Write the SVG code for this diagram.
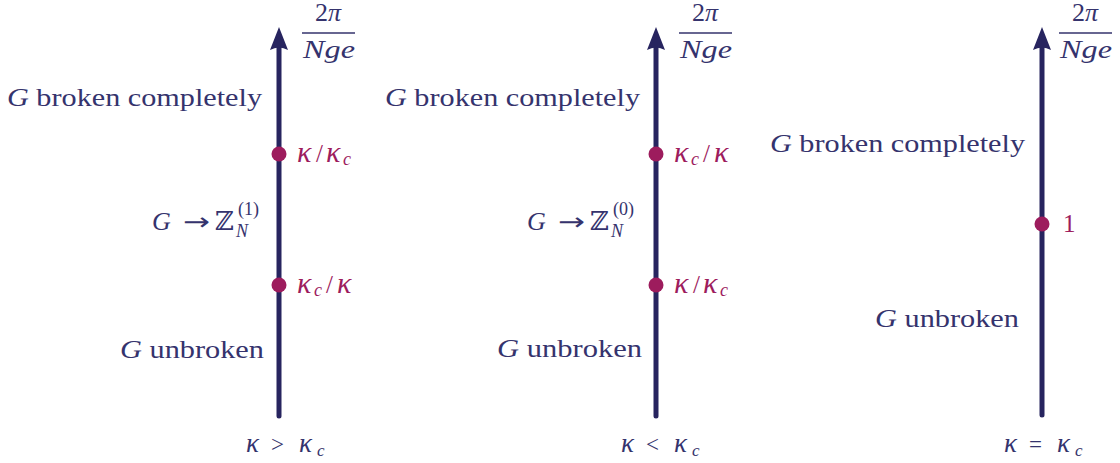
<svg xmlns="http://www.w3.org/2000/svg" width="1120" height="463" viewBox="0 0 1120 463">
<style>
.ax{stroke:#27245f;stroke-width:5;stroke-linecap:round;fill:none}
.hd{fill:#27245f}
.dot{fill:#9d1c5d}
.t{font-family:"Liberation Serif","DejaVu Serif",serif;fill:#35336d;font-size:26px}
.m{font-family:"Liberation Serif","DejaVu Serif",serif;font-style:italic}
.r{font-style:normal}
.p{font-family:"Liberation Serif","DejaVu Serif",serif;fill:#9d1c5d;font-size:25px}
.b{font-family:"Liberation Serif","DejaVu Serif",serif;fill:#35336d;font-size:23px}
.z{font-family:"DejaVu Serif",serif;font-style:normal}
.ar{font-family:"DejaVu Sans",sans-serif;fill:#35336d;font-size:24px}
.k{font-size:30px}
.kb{font-size:27px}
.bar{stroke:#35336d;stroke-width:1.3}
</style>
<rect width="1120" height="463" fill="#fff"/>
<g id="connectors">
<line class="ax" x1="279" y1="416" x2="279" y2="44"/>
<path class="hd" d="M279,27 L288,50 Q279,45 270,50 Z"/>
<line class="ax" x1="656" y1="416" x2="656" y2="44"/>
<path class="hd" d="M656,27 L665,50 Q656,45 647,50 Z"/>
<line class="ax" x1="1042" y1="415" x2="1042" y2="44"/>
<path class="hd" d="M1042,27 L1051,50 Q1042,45 1033,50 Z"/>
</g>
<g id="axis1">
<text class="t m" x="328" y="21" text-anchor="middle" font-size="23"><tspan class="r">2</tspan>π</text>
<line class="bar" x1="302" y1="33" x2="355" y2="33"/>
<text class="t m" x="303" y="58" font-size="25" textLength="52" lengthAdjust="spacingAndGlyphs">Nge</text>
<text class="t" x="7" y="106" textLength="255" lengthAdjust="spacingAndGlyphs"><tspan class="m">G</tspan> broken completely</text>
<circle class="dot" cx="279" cy="154" r="7.5"/>
<text class="p m" y="162"><tspan class="k" x="297">κ</tspan><tspan x="316" class="r">/</tspan><tspan class="k" x="326">κ</tspan><tspan x="343" dy="3" font-size="18">c</tspan></text>
<text class="t m" x="152" y="230">G</text>
<text class="ar" x="183" y="230" textLength="27" lengthAdjust="spacingAndGlyphs">→</text>
<text class="t" y="230"><tspan class="z" x="215">ℤ</tspan><tspan font-size="18" x="238" dy="-15">(1)</tspan><tspan class="m" font-size="18" x="236" dy="22">N</tspan></text>
<circle class="dot" cx="279" cy="285" r="7.5"/>
<text class="p m" y="293"><tspan class="k" x="297">κ</tspan><tspan x="314" dy="3" font-size="18">c</tspan><tspan x="326" dy="-3" class="r">/</tspan><tspan class="k" x="337">κ</tspan></text>
<text class="t" x="120" y="358" textLength="144" lengthAdjust="spacingAndGlyphs"><tspan class="m">G</tspan> unbroken</text>
<text class="b m" y="452"><tspan class="kb" x="246">κ</tspan><tspan x="271" class="r">&gt;</tspan><tspan class="kb" x="299">κ</tspan><tspan x="317" dy="4" font-size="17">c</tspan></text>
</g>
<g id="axis2">
<text class="t m" x="705" y="21" text-anchor="middle" font-size="23"><tspan class="r">2</tspan>π</text>
<line class="bar" x1="679" y1="33" x2="732" y2="33"/>
<text class="t m" x="680" y="58" font-size="25" textLength="52" lengthAdjust="spacingAndGlyphs">Nge</text>
<text class="t" x="385" y="106" textLength="255" lengthAdjust="spacingAndGlyphs"><tspan class="m">G</tspan> broken completely</text>
<circle class="dot" cx="656" cy="154" r="7.5"/>
<text class="p m" y="162"><tspan class="k" x="674">κ</tspan><tspan x="691" dy="3" font-size="18">c</tspan><tspan x="703" dy="-3" class="r">/</tspan><tspan class="k" x="714">κ</tspan></text>
<text class="t m" x="527" y="230">G</text>
<text class="ar" x="558" y="230" textLength="27" lengthAdjust="spacingAndGlyphs">→</text>
<text class="t" y="230"><tspan class="z" x="590">ℤ</tspan><tspan font-size="18" x="613" dy="-15">(0)</tspan><tspan class="m" font-size="18" x="611" dy="22">N</tspan></text>
<circle class="dot" cx="656" cy="285" r="7.5"/>
<text class="p m" y="293"><tspan class="k" x="674">κ</tspan><tspan x="693" class="r">/</tspan><tspan class="k" x="703">κ</tspan><tspan x="720" dy="3" font-size="18">c</tspan></text>
<text class="t" x="497" y="357" textLength="145" lengthAdjust="spacingAndGlyphs"><tspan class="m">G</tspan> unbroken</text>
<text class="b m" y="452"><tspan class="kb" x="621">κ</tspan><tspan x="646" class="r">&lt;</tspan><tspan class="kb" x="674">κ</tspan><tspan x="692" dy="4" font-size="17">c</tspan></text>
</g>
<g id="axis3">
<text class="t m" x="1085" y="21" text-anchor="middle" font-size="23"><tspan class="r">2</tspan>π</text>
<line class="bar" x1="1059" y1="33" x2="1112" y2="33"/>
<text class="t m" x="1060" y="58" font-size="25" textLength="52" lengthAdjust="spacingAndGlyphs">Nge</text>
<text class="t" x="770" y="152" textLength="255" lengthAdjust="spacingAndGlyphs"><tspan class="m">G</tspan> broken completely</text>
<circle class="dot" cx="1042" cy="224" r="7.5"/>
<text class="p" x="1063" y="232">1</text>
<text class="t" x="875" y="327" textLength="144" lengthAdjust="spacingAndGlyphs"><tspan class="m">G</tspan> unbroken</text>
<text class="b m" y="452"><tspan class="kb" x="1004">κ</tspan><tspan x="1029" class="r">=</tspan><tspan class="kb" x="1057">κ</tspan><tspan x="1075" dy="4" font-size="17">c</tspan></text>
</g>
</svg>
